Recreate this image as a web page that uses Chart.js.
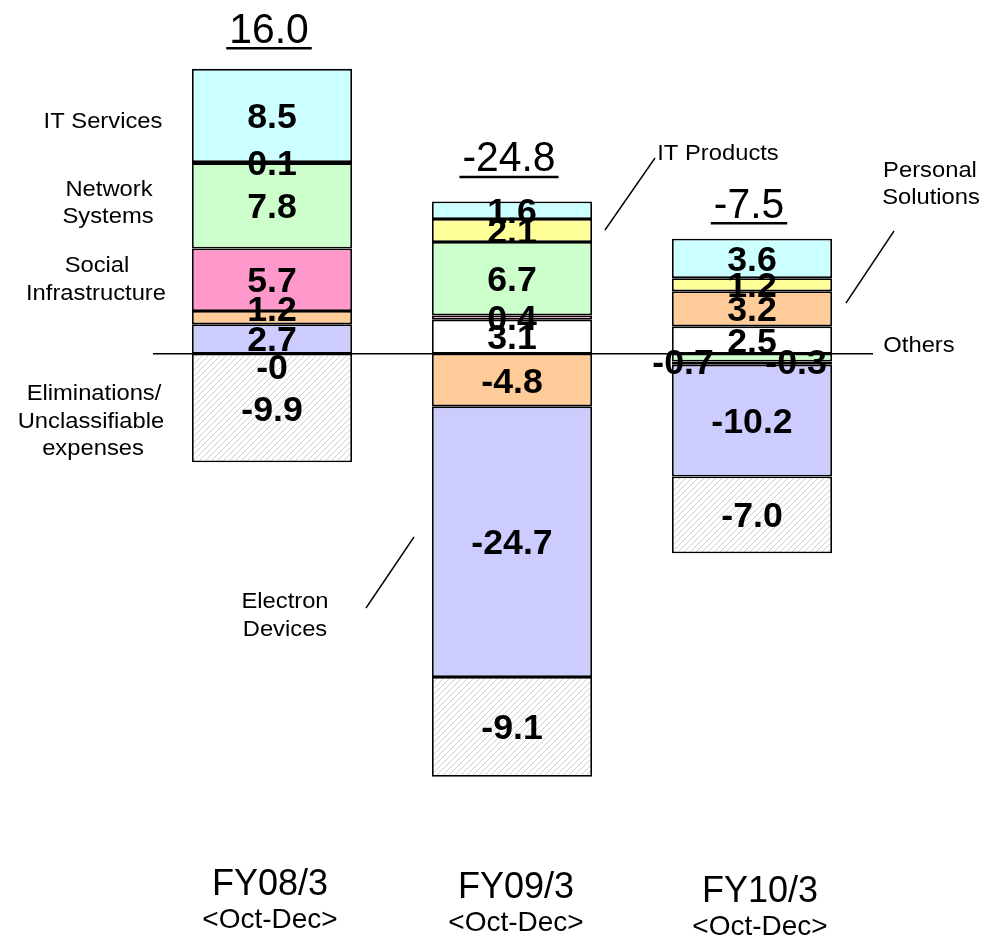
<!DOCTYPE html>
<html>
<head>
<meta charset="utf-8">
<script src="https://cdn.jsdelivr.net/npm/chart.js@4/dist/chart.umd.min.js"></script>
<style>
  html, body { margin: 0; padding: 0; background: #fff; }
  #wrap { position: relative; width: 999px; height: 938px; }
</style>
</head>
<body>
<div id="wrap"><canvas id="c"></canvas></div>
<script>
// Operating income by segment, quarterly (Oct-Dec), billions of yen
const periods = ['FY08/3', 'FY09/3', 'FY10/3'];
const periodNotes = ['<Oct-Dec>', '<Oct-Dec>', '<Oct-Dec>'];
const totals = [16.0, -24.8, -7.5];

const itServices           = [8.5, 1.6, 3.6];
const itProducts           = [0.1, 2.1, 1.2];
const networkSystems       = [7.8, 6.7, -0.7];
const socialInfrastructure = [5.7, 0.4, -0.3];
const personalSolutions    = [1.2, -4.8, 3.2];
const electronDevices      = [2.7, -24.7, -10.2];
const others               = [-0, 3.1, 2.5];
const eliminations         = [-9.9, -9.1, -7.0];

const segmentNames = ['IT Services', 'IT Products', 'Network Systems', 'Social Infrastructure',
                      'Personal Solutions', 'Electron Devices', 'Others', 'Eliminations/Unclassifiable expenses'];
const segmentValues = [itServices, itProducts, networkSystems, socialInfrastructure,
                       personalSolutions, electronDevices, others, eliminations];

// stacking order outward from zero (indices into segmentValues)
const positiveOrder = [6, 5, 4, 3, 2, 1, 0];
const negativeOrder = [6, 4, 2, 3, 5, 7];

const ctx = document.getElementById('c').getContext('2d');

function hatchPattern() {
  const t = document.createElement('canvas');
  t.width = 6; t.height = 6;
  const g = t.getContext('2d');
  g.fillStyle = '#ffffff';
  g.fillRect(0, 0, 6, 6);
  g.strokeStyle = '#cfcfcf';
  g.lineWidth = 1;
  g.beginPath();
  g.moveTo(-1, 7); g.lineTo(7, -1);
  g.moveTo(-1, 1); g.lineTo(1, -1);
  g.moveTo(5, 7); g.lineTo(7, 5);
  g.stroke();
  return ctx.createPattern(t, 'repeat');
}

const fills = ['#ccffff', '#ffff99', '#ccffcc', '#ff99cc', '#ffcc99', '#ccccff', '#ffffff', hatchPattern()];

// floating [from, to] ranges built by stacking each period's values
const ranges = segmentValues.map(() => []);
periods.forEach((_, i) => {
  let up = 0;
  positiveOrder.forEach(s => {
    const v = segmentValues[s][i];
    if (v > 0 || (v === 0 && !Object.is(v, -0))) { ranges[s][i] = [up, up + v]; up += v; }
  });
  let down = 0;
  negativeOrder.forEach(s => {
    const v = segmentValues[s][i];
    if (v < 0 || Object.is(v, -0)) { ranges[s][i] = [down, down + v]; down += v; }
  });
});

const datasets = segmentNames.map((name, s) => ({
  label: name,
  data: ranges[s],
  backgroundColor: fills[s],
  borderColor: '#000',
  borderWidth: 1.8,
  borderSkipped: false,
  grouped: false,
  barPercentage: 0.667,
  categoryPercentage: 1.0
}));

function drawText(c, s, x, y, font, sx, align) {
  c.save();
  c.translate(x, y);
  c.scale(sx || 1, 1);
  c.font = font;
  c.textAlign = align || 'center';
  c.textBaseline = 'alphabetic';
  c.fillStyle = '#000';
  c.fillText(s, 0, 0);
  c.restore();
}

function fmt(v) {
  if (Object.is(v, -0)) return '-0';
  return v.toFixed(1);
}

// small nudges for labels of crowded segments, keyed "period,segment"
const labelShift = {
  '0,4': [0, -9],
  '0,6': [0, 13],
  '2,2': [-69, 4],
  '2,3': [44, -2]
};

const overlay = {
  id: 'overlay',
  afterDatasetsDraw(chart) {
    const c = chart.ctx;
    const area = chart.chartArea;
    const ys = chart.scales.y;
    const xs = chart.scales.x;
    const y0 = ys.getPixelForValue(0);

    // zero line
    c.save();
    c.strokeStyle = '#000';
    c.lineWidth = 1.5;
    c.beginPath();
    c.moveTo(area.left + 1, y0);
    c.lineTo(area.right + 1, y0);
    c.stroke();
    c.restore();

    // segment value labels
    chart.data.datasets.forEach((ds, s) => {
      const meta = chart.getDatasetMeta(s);
      meta.data.forEach((el, i) => {
        const v = segmentValues[s][i];
        if (v === undefined) return;
        const p = el.getProps(['x', 'y', 'base'], true);
        const sh = labelShift[i + ',' + s] || [0, 0];
        const cy = (p.y + p.base) / 2 + sh[1];
        drawText(c, fmt(v), p.x + sh[0], cy + 12.5, 'bold 35px "Liberation Sans", Arial, sans-serif', 1.02);
      });
    });

    // period totals with underline
    const gaps = [26, 30, 21];
    periods.forEach((_, i) => {
      let up = 0;
      segmentValues.forEach(arr => { if (arr[i] > 0) up += arr[i]; });
      const top = ys.getPixelForValue(up);
      const x = xs.getPixelForValue(i) - 3;
      const base = top - gaps[i];
      const label = totals[i].toFixed(1);
      const font = '43px "Liberation Sans", Arial, sans-serif';
      c.save();
      c.font = font;
      const w = c.measureText(label).width * 0.95;
      c.restore();
      drawText(c, label, x, base, font, 0.95);
      c.save();
      c.strokeStyle = '#000';
      c.lineWidth = 2.5;
      c.beginPath();
      c.moveTo(x - w / 2 - 3, base + 5.5);
      c.lineTo(x + w / 2 + 3, base + 5.5);
      c.stroke();
      c.restore();
    });

    // period names below the bars
    const nameDx = [-2, 4, 8];
    const nameBase = [895, 898, 902];
    const noteBase = [928, 931, 935];
    periods.forEach((p, i) => {
      const x = xs.getPixelForValue(i) + nameDx[i];
      drawText(c, p, x, nameBase[i], '36px "Liberation Sans", Arial, sans-serif', 1);
      drawText(c, periodNotes[i], x, noteBase[i], '28px "Liberation Sans", Arial, sans-serif', 1);
    });

    // segment callouts
    const f = '22px "Liberation Sans", Arial, sans-serif';
    const sx = 1.08;
    const callouts = [
      ['IT Services', 103, 128],
      ['Network', 109, 196], ['Systems', 108, 223],
      ['Social', 97, 272], ['Infrastructure', 96, 300],
      ['Eliminations/', 94, 400], ['Unclassifiable', 91, 428], ['expenses', 93, 455],
      ['Electron', 285, 608], ['Devices', 285, 636],
      ['IT Products', 718, 160],
      ['Personal', 930, 177], ['Solutions', 931, 204],
      ['Others', 919, 352]
    ];
    callouts.forEach(([t, x, y]) => drawText(c, t, x, y, f, sx));

    c.save();
    c.strokeStyle = '#000';
    c.lineWidth = 1.4;
    [[605, 230, 655, 158], [846, 303, 894, 231], [366, 608, 414, 537]].forEach(([a, b, d, e]) => {
      c.beginPath(); c.moveTo(a, b); c.lineTo(d, e); c.stroke();
    });
    c.restore();
  }
};

new Chart(ctx, {
  type: 'bar',
  data: { labels: periods, datasets },
  options: {
    responsive: true,
    maintainAspectRatio: false,
    animation: false,
    layout: { padding: { left: 152, right: 127, top: 25, bottom: 113 } },
    plugins: { legend: { display: false }, tooltip: { enabled: false } },
    scales: {
      x: { display: false },
      y: { display: false, min: -43, max: 30 }
    }
  },
  plugins: [overlay]
});
</script>
</body>
</html>
